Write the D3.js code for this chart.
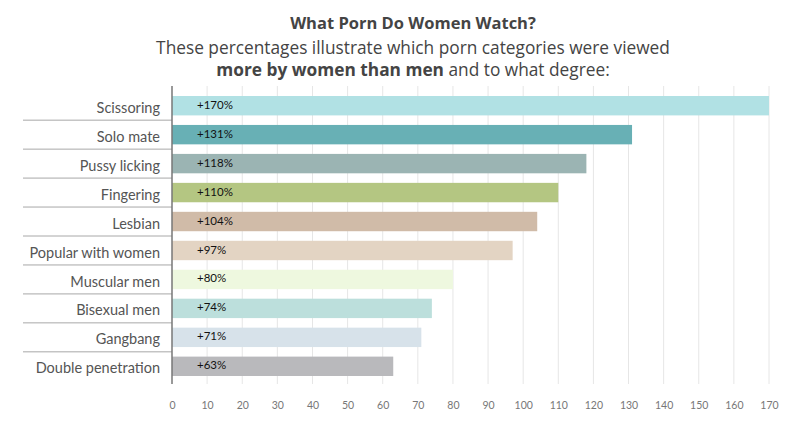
<!DOCTYPE html>
<html>
<head>
<meta charset="utf-8">
<script src="https://cdn.jsdelivr.net/npm/d3@7"></script>
<style>
  body { margin: 0; background: #fff; }
  svg { font-family: "Lato", "Open Sans", sans-serif; }
</style>
</head>
<body>
<svg width="800" height="440"></svg>
<script>
const categories = ["Scissoring", "Solo mate", "Pussy licking", "Fingering", "Lesbian",
    "Popular with women", "Muscular men", "Bisexual men", "Gangbang", "Double penetration"];
const values = [170, 131, 118, 110, 104, 97, 80, 74, 71, 63];
const colors = ["#b1e1e4", "#68b0b5", "#9bb4b3", "#b4c682", "#d0bba8",
    "#e3d4c3", "#eef8df", "#bcdfdc", "#d7e2ea", "#b9b9bc"];
const ticks = d3.range(0, 171, 10);

const svg = d3.select("svg");

const x = d3.scaleLinear().domain([0, 170]).range([172, 769]),
    y = d3.scaleBand().domain(categories).range([86, 386]).paddingInner(0.33).paddingOuter(0.345);

// titles
svg.append("text").attr("x", 413).attr("y", 29).attr("text-anchor", "middle")
    .attr("font-family", "'Open Sans', sans-serif")
    .attr("font-size", 16.5).attr("font-weight", "bold").attr("fill", "#444")
    .text("What Porn Do Women Watch?");
svg.append("text").attr("x", 413).attr("y", 54).attr("text-anchor", "middle")
    .attr("font-family", "'Open Sans', sans-serif")
    .attr("font-size", 17.3).attr("fill", "#444")
    .text("These percentages illustrate which porn categories were viewed");
const sub2 = svg.append("text").attr("x", 413).attr("y", 76).attr("text-anchor", "middle")
    .attr("font-family", "'Open Sans', sans-serif")
    .attr("font-size", 17.3).attr("fill", "#444");
sub2.append("tspan").attr("font-weight", "bold").text("more by women than men");
sub2.append("tspan").text(" and to what degree:");

// grid
svg.append("g").selectAll("line")
    .data(ticks.slice(1))
    .enter().append("line")
    .attr("x1", d => x(d)).attr("x2", d => x(d))
    .attr("y1", 86).attr("y2", 384)
    .attr("stroke", "#e6e6e6").attr("stroke-width", 1);

// row separators
const step = y.step();
svg.append("g").selectAll("line")
    .data(categories.slice(1))
    .enter().append("line")
    .attr("x1", 23).attr("x2", 172)
    .attr("y1", d => y(d) - step * y.paddingInner() / 2)
    .attr("y2", d => y(d) - step * y.paddingInner() / 2)
    .attr("stroke", "#a8a8a8").attr("stroke-width", 1);

// bars
svg.append("g").selectAll("rect")
    .data(values)
    .enter().append("rect")
    .attr("x", x(0))
    .attr("y", (d, i) => y(categories[i]))
    .attr("width", d => x(d) - x(0))
    .attr("height", y.bandwidth())
    .attr("fill", (d, i) => colors[i]);

// value labels
svg.append("g").selectAll("text")
    .data(values)
    .enter().append("text")
    .attr("x", 197)
    .attr("y", (d, i) => y(categories[i]) + y.bandwidth() / 2 - 1)
    .attr("dy", "0.35em")
    .attr("font-size", 11.5).attr("fill", "#111")
    .text(d => "+" + d + "%");

// category labels
svg.append("g").selectAll("text")
    .data(categories)
    .enter().append("text")
    .attr("x", 160)
    .attr("y", d => y(d) + y.bandwidth() / 2 + 2)
    .attr("dy", "0.35em")
    .attr("text-anchor", "end")
    .attr("font-size", 14.5).attr("fill", "#555")
    .text(d => d);

// axis
const xAxis = d3.axisBottom(x).tickValues(ticks).tickSize(0).tickPadding(18);
const gx = svg.append("g")
    .attr("transform", "translate(0,384)")
    .call(xAxis);
gx.select(".domain").remove();
gx.selectAll("text").attr("font-size", 10.5).attr("fill", "#777")
    .attr("font-family", "Lato, 'Open Sans', sans-serif");

svg.append("line").attr("x1", x(0)).attr("x2", x(0)).attr("y1", 86).attr("y2", 384)
    .attr("stroke", "#777").attr("stroke-width", 1.5);
</script>
</body>
</html>
